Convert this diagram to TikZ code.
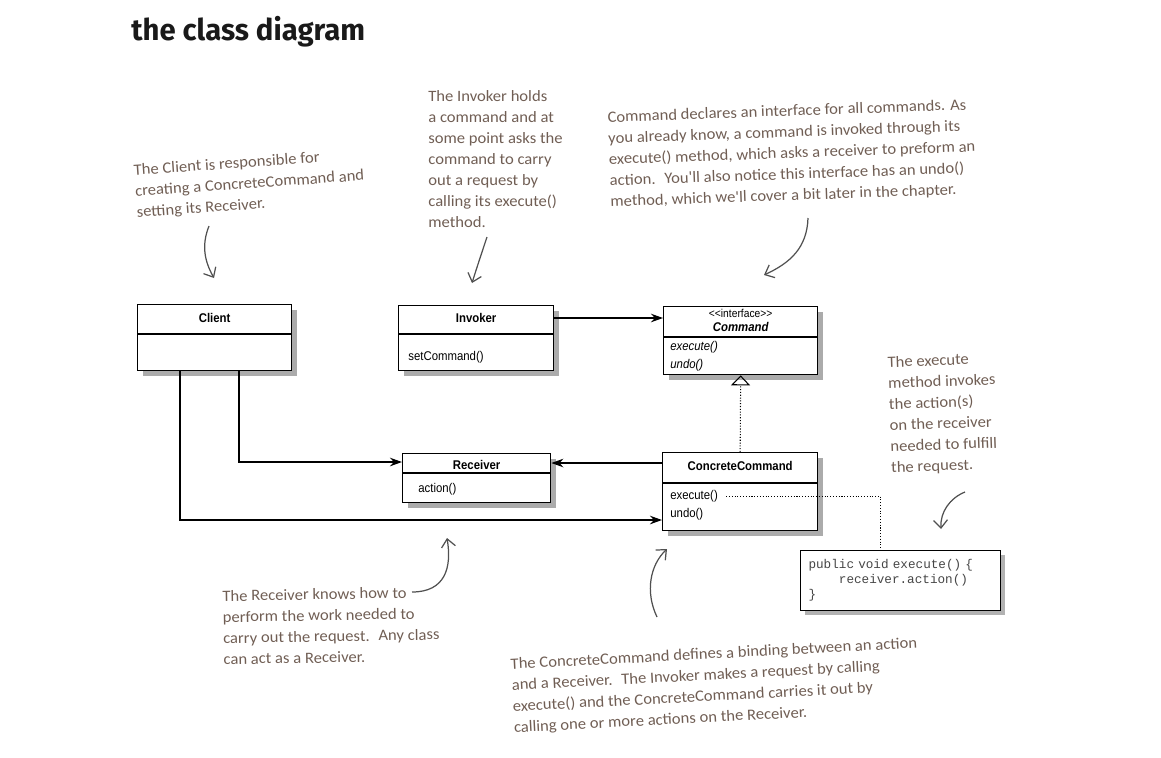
\documentclass[tikz,border=0pt]{standalone}
\usepackage{fontspec}
\usepackage{xcolor}
\usepackage{tikz}
\usetikzlibrary{arrows, arrows.meta, shadows}
\newfontfamily\umlfont[FakeStretch=0.9]{Liberation Sans}
\newfontfamily\notefont[FakeStretch=1.05]{Carlito}
\newfontfamily\codefont{Liberation Mono}
\newfontfamily\titlefont[FakeStretch=0.98]{Fira Sans}
\definecolor{notebrown}{RGB}{112,94,84}
\definecolor{penline}{RGB}{80,80,80}
\definecolor{codegray}{RGB}{70,70,70}
\tikzstyle{umlbox} = [rectangle, draw=black, line width=0.75pt, fill=white, anchor=north west, inner sep=0pt, drop shadow={shadow xshift=1.1mm, shadow yshift=-1.1mm, fill=black!60, opacity=0.55}]
\tikzstyle{umlname} = [font=\umlfont\fontsize{7.2}{8.6}\selectfont\bfseries, anchor=base, inner sep=0pt]
\tikzstyle{umlitem} = [font=\umlfont\fontsize{7.2}{8.6}\selectfont, anchor=base west, inner sep=0pt]
\tikzstyle{divider} = [line width=0.75pt]
\tikzstyle{codebox} = [rectangle, draw=black, line width=0.6pt, fill=white, anchor=north west, minimum width=40mm, minimum height=12mm, text width=36.8mm, inner xsep=1.6mm, align=left, font=\codefont\fontsize{7.2}{8.6}\selectfont, text=codegray, drop shadow={shadow xshift=0.9mm, shadow yshift=-0.9mm, fill=black!60, opacity=0.5}]
\tikzstyle{arrow} = [line width=1pt, -{Stealth[length=2.4mm, width=1.7mm]}]
\tikzstyle{realize} = [densely dotted, line width=0.6pt, -{Triangle[open, length=2mm, width=3.8mm, line width=0.6pt]}]
\tikzstyle{dotline} = [densely dotted, line width=0.6pt]
\tikzstyle{note} = [font=\notefont\fontsize{9}{12}\selectfont, text=notebrown, align=left, anchor=north west, inner sep=0pt]
\tikzstyle{penarrow} = [draw=penline, line width=0.7pt, -{Straight Barb[length=1.6mm, width=2.8mm]}]
\tikzstyle{titletext} = [font=\titlefont\fontsize{17}{20}\selectfont\bfseries, text=black!90, anchor=base west, inner sep=0pt]

\begin{document}
\begin{tikzpicture}[x=0.2mm, y=-0.2mm]
      \useasboundingbox (0,0) rectangle (1161,757);
      \node (title) [titletext] at (131,40) {the class diagram};

      % classes
      \node (client) [umlbox, minimum width=30.8mm, minimum height=13.2mm] at (137,304) {};
      \draw [divider] ([yshift=-6mm]client.north west) -- ([yshift=-6mm]client.north east);
      \node (client-name) [umlname] at ([yshift=-3.6mm]client.north) {Client};

      \node (invoker) [umlbox, minimum width=31mm, minimum height=13mm] at (398,305) {};
      \draw [divider] ([yshift=-5.8mm]invoker.north west) -- ([yshift=-5.8mm]invoker.north east);
      \node (invoker-name) [umlname] at ([yshift=-3.4mm]invoker.north) {Invoker};
      \node (invoker-set) [umlitem] at ([shift={(2mm,-11.1mm)}]invoker.north west) {setCommand()};

      \node (command) [umlbox, minimum width=30.8mm, minimum height=13.6mm] at (663,306) {};
      \draw [divider] ([yshift=-6.2mm]command.north west) -- ([yshift=-6.2mm]command.north east);
      \node (command-stereo) [umlitem, anchor=base, font=\umlfont\fontsize{6.5}{8}\selectfont] at ([yshift=-2.2mm]command.north) {<\kern0pt<interface>\kern0pt>};
      \node (command-name) [umlname] at ([yshift=-5.1mm]command.north) {\itshape Command};
      \node (command-exec) [umlitem] at ([shift={(1.4mm,-8.8mm)}]command.north west) {\itshape execute()};
      \node (command-undo) [umlitem] at ([shift={(1.4mm,-12.5mm)}]command.north west) {\itshape undo()};

      \node (receiver) [umlbox, minimum width=29.6mm, minimum height=9.8mm] at (402,453) {};
      \draw [divider] ([yshift=-4mm]receiver.north west) -- ([yshift=-4mm]receiver.north east);
      \node (receiver-name) [umlname] at ([yshift=-3.3mm]receiver.north) {Receiver};
      \node (receiver-action) [umlitem] at ([shift={(3.2mm,-7.9mm)}]receiver.north west) {action()};

      \node (cc) [umlbox, minimum width=31mm, minimum height=15.6mm] at (662,452) {};
      \draw [divider] ([yshift=-6.2mm]cc.north west) -- ([yshift=-6.2mm]cc.north east);
      \node (cc-name) [umlname] at ([yshift=-3.7mm]cc.north) {ConcreteCommand};
      \node (cc-exec) [umlitem] at ([shift={(1.6mm,-9.5mm)}]cc.north west) {execute()};
      \node (cc-undo) [umlitem] at ([shift={(1.6mm,-13.1mm)}]cc.north west) {undo()};

      \node (code) [codebox] at (800,550) {public void execute() \{\\\phantom{xxxx}receiver.action()\\\}};

      % associations
      \draw [arrow] ([yshift=-2.6mm]invoker.north east) -- ([yshift=-2.6mm]invoker.north east -| command.west);
      \draw [arrow] ([xshift=20.4mm]client.south west) |- ([yshift=-1.8mm]receiver.north west);
      \draw [arrow] ([xshift=8.6mm]client.south west) |- ([yshift=-13.6mm]cc.north west);
      \draw [arrow] ([yshift=-2.2mm]cc.north west) -- ([yshift=-2.2mm]cc.north west -| receiver.east);
      \draw [realize] (cc.north) -- (command.south);
      \draw [dotline] ([xshift=1.6mm]cc-exec.east) -| ([xshift=-4mm]code.north);

      % notes
      \node (client-note) [note, rotate=4] at (133,164) {The Client is responsible for\\creating a ConcreteCommand and\\setting its Receiver.};
      \node (invoker-note) [note] at (428,90) {The Invoker holds\\a command and at\\some point asks the\\command to carry\\out a request by\\calling its execute()\\method.};
      \node (command-note) [note, rotate=2] at (607,111) {Command declares an interface for all commands. As\\you already know, a command is invoked through its\\execute() method, which asks a receiver to preform an\\action.~ You'll also notice this interface has an undo()\\method, which we'll cover a bit later in the chapter.};
      \node (exec-note) [note, rotate=2] at (887,356) {The execute\\method invokes\\the action(s)\\on the receiver\\needed to fulfill\\the request.};
      \node (receiver-note) [note, rotate=1] at (222,590) {The Receiver knows how to\\perform the work needed to\\carry out the request.~ Any class\\can act as a Receiver.};
      \node (cc-note) [note, rotate=3] at (510,658) {The ConcreteCommand defines a binding between an action\\and a Receiver.~ The Invoker makes a request by calling\\execute() and the ConcreteCommand carries it out by\\calling one or more actions on the Receiver.};

      % pen arrows
      \coordinate (client-tail) at (209,226);
      \coordinate (client-tip) at (214,278);
      \draw [penarrow] (client-tail) .. controls (201,246) and (205,262) .. (client-tip);
      \coordinate (invoker-tail) at (487,237);
      \coordinate (invoker-tip) at (472,283);
      \draw [penarrow] (invoker-tail) .. controls (482,252) and (477,267) .. (invoker-tip);
      \coordinate (command-tail) at (808,218);
      \coordinate (command-tip) at (764,275);
      \draw [penarrow] (command-tail) .. controls (807,248) and (790,263) .. (command-tip);
      \coordinate (exec-tail) at (965,492);
      \coordinate (exec-tip) at (941,529);
      \draw [penarrow] (exec-tail) .. controls (950,498) and (940,512) .. (exec-tip);
      \coordinate (receiver-tail) at (412,592);
      \coordinate (receiver-tip) at (447,538);
      \draw [penarrow] (receiver-tail) .. controls (445,592) and (452,568) .. (receiver-tip);
      \coordinate (cc-tail) at (657,617);
      \coordinate (cc-tip) at (667,549);
      \draw [penarrow] (cc-tail) .. controls (645,592) and (650,565) .. (cc-tip);
\end{tikzpicture}
\end{document}
